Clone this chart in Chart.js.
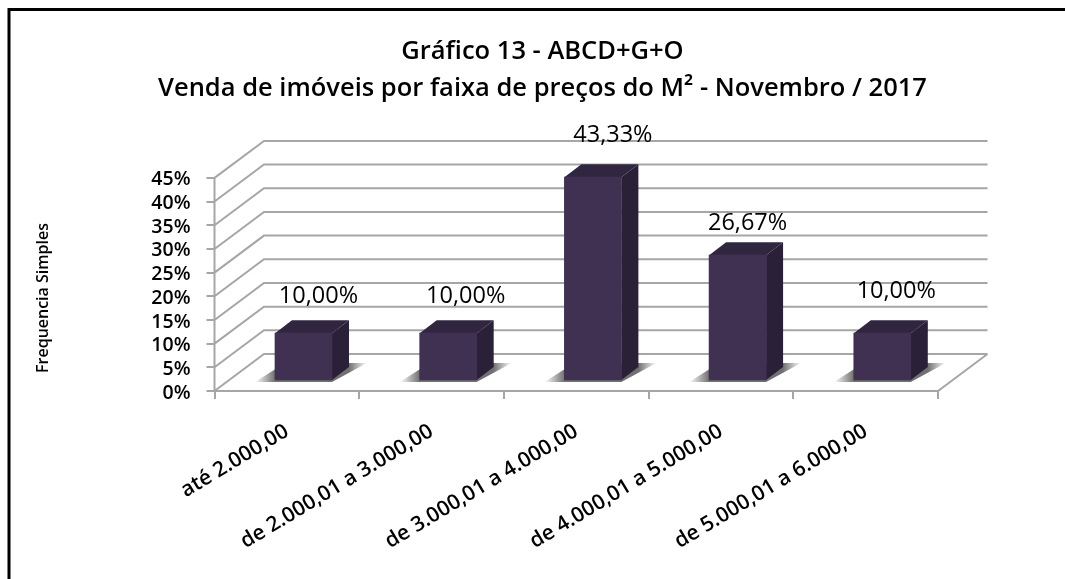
<!DOCTYPE html>
<html><head><meta charset="utf-8">
<style>html,body{margin:0;padding:0;background:#fff}canvas{display:block}</style>
<script src="https://cdn.jsdelivr.net/npm/chart.js@4"></script>
</head><body><div style="width:1065px;height:579px"><canvas id="c" width="1065" height="579"></canvas></div>
<script>
const titleLines = ["Gráfico 13 - ABCD+G+O", "Venda de imóveis por faixa de preços do M² - Novembro / 2017"];
const categories = ["até 2.000,00", "de 2.000,01 a 3.000,00", "de 3.000,01 a 4.000,00", "de 4.000,01 a 5.000,00", "de 5.000,01 a 6.000,00"];
const values = [10.00, 10.00, 43.33, 26.67, 10.00];
const valueLabels = ["10,00%", "10,00%", "43,33%", "26,67%", "10,00%"];
const axisTitle = "Frequencia Simples";
const labelNudgeX = [15, 17.5, 20, 10, 14];
const labelNudgeY = [37, 37, 42, 32, 42];

const FONT = '"Open Sans", Lato, sans-serif';
const GRID = '#a6a6a6';
const DX = 49.5, DY = 37;         // wall depth
const BDX = 17, BDY = 13;         // bar depth

const depth3d = {
  id: 'depth3d',
  beforeDatasetsDraw(chart) {
    const {ctx, scales} = chart, y = scales.y, a = chart.chartArea;
    const L = a.left, R = a.right;
    ctx.save();
    ctx.strokeStyle = GRID; ctx.lineWidth = 2;
    const yb = y.getPixelForValue(0), yt = y.getPixelForValue(45);
    ctx.beginPath();
    for (let v = 0; v <= 45; v += 5) {
      const p = y.getPixelForValue(v);
      ctx.moveTo(L, p); ctx.lineTo(L + DX, p - DY); ctx.lineTo(R + DX, p - DY);
    }
    ctx.moveTo(L, yt); ctx.lineTo(L, yb); ctx.lineTo(R, yb); ctx.lineTo(R + DX, yb - DY);
    ctx.stroke();
    // floor shadows
    const bars = chart.getDatasetMeta(0).data;
    bars.forEach(b => {
      const hw = b.width / 2, base = b.base;
      const x0 = b.x - hw - 20, x1 = b.x + hw + 35;
      const g = ctx.createLinearGradient(x0, 0, x1, 0);
      const s = (x1 - x0);
      g.addColorStop(0, 'rgba(105,105,105,0)');
      g.addColorStop(20 / s, 'rgba(105,105,105,0.95)');
      g.addColorStop((s - 18) / s, 'rgba(105,105,105,0.95)');
      g.addColorStop(1, 'rgba(105,105,105,0)');
      ctx.fillStyle = g;
      ctx.beginPath();
      ctx.moveTo(x0, base + 2);
      ctx.lineTo(b.x + hw, base + 2);
      ctx.lineTo(x1, base - 17);
      ctx.lineTo(x0 + 30, base - 17);
      ctx.closePath();
      ctx.fill();
    });
    // bar depth faces
    bars.forEach(b => {
      const hw = b.width / 2, l = b.x - hw, r = b.x + hw, t = b.y, bt = b.base;
      ctx.fillStyle = '#31263f';
      ctx.beginPath();
      ctx.moveTo(l, t); ctx.lineTo(l + BDX, t - BDY); ctx.lineTo(r + BDX, t - BDY); ctx.lineTo(r, t);
      ctx.closePath(); ctx.fill();
      ctx.fillStyle = '#2a2038';
      ctx.beginPath();
      ctx.moveTo(r, t); ctx.lineTo(r + BDX, t - BDY); ctx.lineTo(r + BDX, bt - BDY); ctx.lineTo(r, bt);
      ctx.closePath(); ctx.fill();
    });
    ctx.restore();
  },
  afterDraw(chart) {
    const {ctx} = chart;
    const bars = chart.getDatasetMeta(0).data;
    ctx.save();
    ctx.fillStyle = '#000';
    ctx.font = '500 23.5px ' + FONT;
    ctx.textAlign = 'center'; ctx.textBaseline = 'middle';
    bars.forEach((b, i) => ctx.fillText(valueLabels[i], b.x + labelNudgeX[i], b.y - labelNudgeY[i]));
    // axis title
    ctx.save();
    ctx.translate(43, 298);
    ctx.rotate(-Math.PI / 2);
    ctx.font = '600 16px ' + FONT;
    ctx.fillText(axisTitle, 0, 0);
    ctx.restore();
    // frame: top and left only
    ctx.strokeStyle = '#000'; ctx.lineWidth = 3;
    ctx.beginPath();
    ctx.moveTo(9, 579); ctx.lineTo(9, 9.5); ctx.lineTo(1065, 9.5);
    ctx.stroke();
    ctx.restore();
  }
};

new Chart(document.getElementById('c'), {
  type: 'bar',
  data: {
    labels: categories,
    datasets: [{
      data: values.map((v, i) => ({x: i + 1, y: v})),
      xAxisID: 'xBars', yAxisID: 'yBars',
      backgroundColor: '#403052',
      barThickness: 57,
      clip: false
    }]
  },
  plugins: [depth3d],
  options: {
    responsive: false, animation: false,
    layout: {padding: {left: 20, right: 0, top: 33, bottom: 0}},
    plugins: {
      legend: {display: false}, tooltip: {enabled: false},
      title: {display: true, text: titleLines, color: '#000',
        font: {family: FONT, size: 25.5, weight: '600', lineHeight: 1.45}, padding: {top: 0, bottom: 34}}
    },
    scales: {
      x: {
        type: 'category', position: 'bottom', offset: true,
        grid: {offset: true, drawOnChartArea: false, drawTicks: true, tickLength: 8, color: GRID, lineWidth: 2},
        border: {display: false},
        ticks: {autoSkip: false, minRotation: 31, maxRotation: 31, color: '#000', padding: 20,
          font: {family: FONT, size: 21, weight: '600'}},
        afterFit(s) { s.height = 188; }
      },
      xBars: {
        type: 'linear', position: 'bottom', display: false, offset: false,
        grid: {offset: false},
        min: 0.385, max: 5.385
      },
      y: {
        type: 'linear', position: 'left', min: 0, max: 52.8,
        afterBuildTicks(s) { s.ticks = s.ticks.filter(t => t.value <= 45); },
        grid: {drawOnChartArea: false, drawTicks: true, tickLength: 8, color: GRID, lineWidth: 2},
        border: {display: false},
        ticks: {stepSize: 5, color: '#000', padding: 16, labelOffset: 2, callback: v => v + '%',
          font: {family: FONT, size: 19.5, weight: '600'}},
        afterFit(s) { s.width = 194.5; }
      },
      yBars: {
        type: 'linear', position: 'right', min: -2.36, max: 51.07,
        grid: {display: false}, border: {display: false},
        ticks: {display: false},
        afterFit(s) { s.width = 127; }
      }
    }
  }
});
</script></body></html>
